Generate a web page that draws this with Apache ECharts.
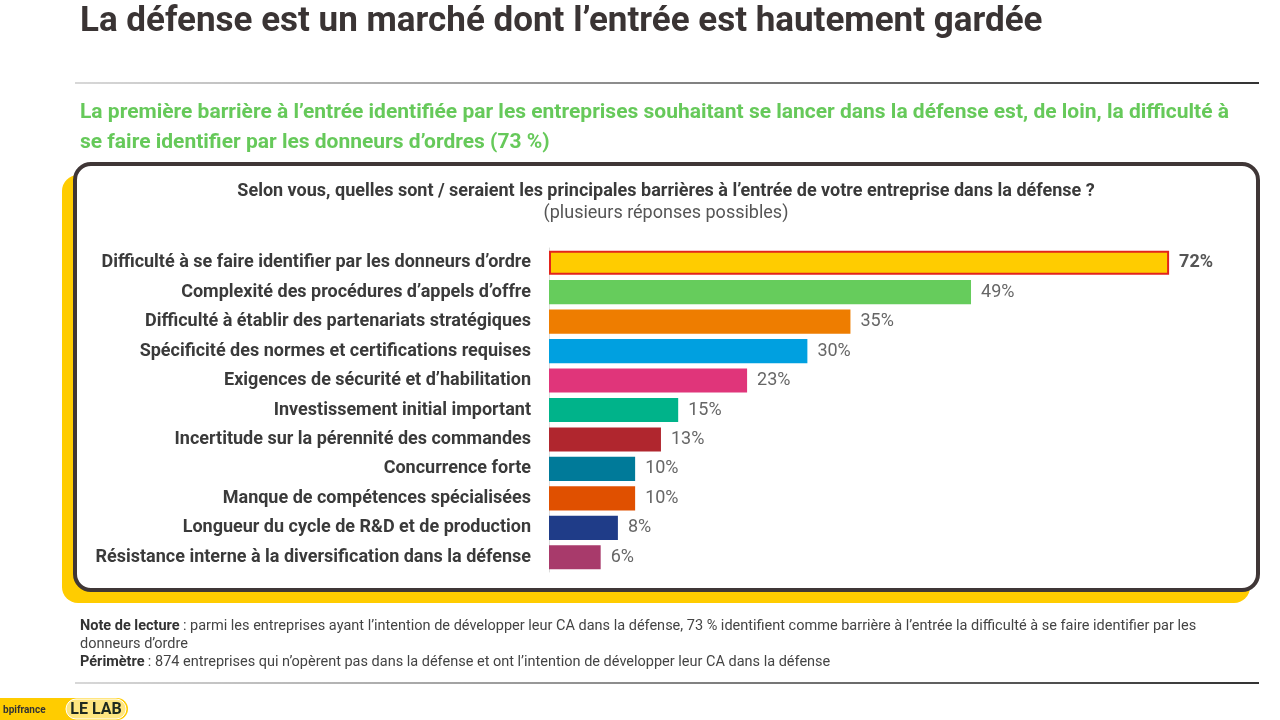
<!DOCTYPE html>
<html><head><meta charset="utf-8">
<script src="https://cdn.jsdelivr.net/npm/echarts@6/dist/echarts.min.js"></script>
<style>html,body{margin:0;padding:0;background:#fff}#c{width:1280px;height:720px}</style>
</head><body><div id="c"></div>
<script>
const categories = [
  "Difficulté à se faire identifier par les donneurs d’ordre",
  "Complexité des procédures d’appels d’offre",
  "Difficulté à établir des partenariats stratégiques",
  "Spécificité des normes et certifications requises",
  "Exigences de sécurité et d’habilitation",
  "Investissement initial important",
  "Incertitude sur la pérennité des commandes",
  "Concurrence forte",
  "Manque de compétences spécialisées",
  "Longueur du cycle de R&D et de production",
  "Résistance interne à la diversification dans la défense"
];
const values = [72, 49, 35, 30, 23, 15, 13, 10, 10, 8, 6];
const barColors = ["#FFCC00","#66CC5C","#EE7D00","#00A0E0","#E0357A","#00B38A","#B0262E","#007A99","#E05000","#1F3C88","#A83A6B"];

const chart = echarts.init(document.getElementById('c'));
const font = "Roboto";
chart.setOption({
  animation: false,
  textStyle: {fontFamily: font},
  grid: {left: 549, right: 42, top: 248, height: 324},
  xAxis: {type: 'value', min: 0, max: 80, show: false},
  yAxis: {
    type: 'category', inverse: true, data: categories,
    axisLine: {show: true, lineStyle: {color: '#dddddd', width: 1}},
    axisTick: {show: false},
    axisLabel: {margin: 18, fontSize: 18, fontWeight: 'bold', color: '#3a3a3a', fontFamily: font}
  },
  series: [{
    type: 'bar', barCategoryGap: '18%',
    data: values.map((v, i) => ({
      value: v,
      itemStyle: i === 0 ? {color: barColors[i], borderColor: '#E3241B', borderWidth: 2} : {color: barColors[i]},
      label: i === 0 ? {fontWeight: 'bold', color: '#555'} : {}
    })),
    label: {show: true, position: 'right', distance: 10, formatter: '{c}%', fontSize: 18, color: '#666', fontFamily: font}
  }],
  graphic: [
    {type: 'text', x: 80, y: 22, style: {text: "La défense est un marché dont l’entrée est hautement gardée", font: "bold 35px Roboto", fill: '#3a3434', verticalAlign: 'middle'}},
    {type: 'rect', shape: {x: 75, y: 82, width: 1184, height: 2}, style: {fill: new echarts.graphic.LinearGradient(0,0,1,0,[{offset:0,color:'#d8d8d8'},{offset:1,color:'#333'}])}},
    {type: 'text', x: 80, y: 113, style: {text: "La première barrière à l’entrée identifiée par les entreprises souhaitant se lancer dans la défense est, de loin, la difficulté à", font: "bold 21px Roboto", fill: '#66C95A', verticalAlign: 'middle'}},
    {type: 'text', x: 80, y: 143, style: {text: "se faire identifier par les donneurs d’ordres (73 %)", font: "bold 21px Roboto", fill: '#66C95A', verticalAlign: 'middle'}},
    {type: 'rect', z: -2, shape: {x: 62, y: 175, width: 1188, height: 428, r: 16}, style: {fill: '#FFCC00'}},
    {type: 'rect', z: -1, shape: {x: 75, y: 164, width: 1183, height: 426, r: 16}, style: {fill: '#fff', stroke: '#3f3636', lineWidth: 4}},
    {type: 'text', x: 666, y: 191, style: {text: "Selon vous, quelles sont / seraient les principales barrières à l’entrée de votre entreprise dans la défense ?", font: "bold 18px Roboto", fill: '#3a3a3a', align: 'center', verticalAlign: 'middle'}},
    {type: 'text', x: 666, y: 213, style: {text: "(plusieurs réponses possibles)", font: "18px Roboto", fill: '#555', align: 'center', verticalAlign: 'middle'}},
    {type: 'text', x: 80, y: 626, style: {rich: {b: {font: "bold 14.5px Roboto", fill: '#333'}, n: {font: "14.5px Roboto", fill: '#444'}}, text: "{b|Note de lecture} {n|: parmi les entreprises ayant l’intention de développer leur CA dans la défense, 73 % identifient comme barrière à l’entrée la difficulté à se faire identifier par les}", verticalAlign: 'middle'}},
    {type: 'text', x: 80, y: 644, style: {text: "donneurs d’ordre", font: "14.5px Roboto", fill: '#444', verticalAlign: 'middle'}},
    {type: 'text', x: 80, y: 662, style: {rich: {b: {font: "bold 14.5px Roboto", fill: '#333'}, n: {font: "14.5px Roboto", fill: '#444'}}, text: "{b|Périmètre} {n|: 874 entreprises qui n’opèrent pas dans la défense et ont l’intention de développer leur CA dans la défense}", verticalAlign: 'middle'}},
    {type: 'rect', shape: {x: 75, y: 682, width: 1184, height: 2}, style: {fill: new echarts.graphic.LinearGradient(0,0,1,0,[{offset:0,color:'#d8d8d8'},{offset:1,color:'#333'}])}},
    {type: 'rect', shape: {x: 0, y: 698, width: 128, height: 22, r: [0, 11, 11, 0]}, style: {fill: '#FFCC00'}},
    {type: 'text', x: 3, y: 710, style: {text: "bpifrance", font: "bold 10px Roboto", fill: '#333', verticalAlign: 'middle'}},
    {type: 'rect', shape: {x: 66, y: 699, width: 60, height: 20, r: 10}, style: {fill: '#FFE680', stroke: '#fff', lineWidth: 1}},
    {type: 'text', x: 96, y: 710, style: {text: "LE LAB", font: "bold 16px Roboto", fill: '#1f2a1f', align: 'center', verticalAlign: 'middle'}}
  ]
});
</script></body></html>
